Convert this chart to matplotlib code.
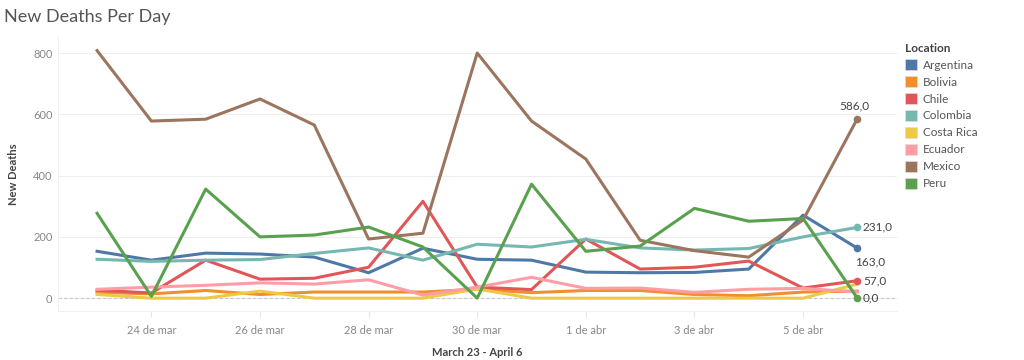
import matplotlib

matplotlib.use("Agg")
import matplotlib.pyplot as plt
from matplotlib.patches import Patch

plt.rcParams["font.family"] = ["Lato", "DejaVu Sans"]

days = list(range(15))  # March 23 .. April 6
tick_days = [1, 3, 5, 7, 9, 11, 13]
tick_labels = ["24 de mar", "26 de mar", "28 de mar", "30 de mar",
               "1 de abr", "3 de abr", "5 de abr"]

locations = ["Argentina", "Bolivia", "Chile", "Colombia",
             "Costa Rica", "Ecuador", "Mexico", "Peru"]
colors = ["#4E79A7", "#F28E2B", "#E15759", "#76B7B2",
          "#EDC948", "#FF9DA7", "#9C755F", "#59A14F"]

argentina = [153, 124, 147, 144, 134, 83, 163, 127, 124, 85, 83, 84, 95, 271, 163]
bolivia = [19, 14, 25, 12, 20, 20, 20, 29, 18, 25, 25, 12, 8, 20, 23]
chile = [26, 17, 124, 62, 65, 101, 316, 36, 28, 193, 95, 101, 121, 33, 57]
colombia = [127, 120, 124, 126, 146, 164, 124, 176, 167, 192, 164, 157, 162, 200, 231]
costa_rica = [12, 0, 0, 23, 0, 0, 0, 30, 0, 0, 0, 0, 0, 0, 46]
ecuador = [29, 36, 42, 50, 46, 60, 10, 36, 68, 32, 33, 19, 29, 32, 20]
mexico = [808, 578, 584, 650, 565, 193, 212, 800, 578, 454, 189, 155, 134, 255, 586]
peru = [277, 6, 356, 200, 206, 232, 167, 0, 372, 153, 170, 293, 251, 260, 0]

series = [argentina, bolivia, chile, colombia, costa_rica, ecuador, mexico, peru]
# end-of-line labels: offset in points and alignment
labelled = {"Mexico": (-2, 5, "center", "bottom"),
            "Colombia": (4, 0, "left", "center"),
            "Argentina": (-2, -10, "left", "center"),
            "Chile": (4, 0, "left", "center"),
            "Peru": (4, 0, "left", "center")}

fig = plt.figure(figsize=(10.24, 3.6), dpi=100)
ax = fig.add_axes([0.0566, 0.136, 0.8194, 0.761])

ax.axhline(0, color="#c8c8c8", lw=0.8, ls=(0, (3, 2)), zorder=1)
for name, vals, col in zip(locations, series, colors):
    ax.plot(days, vals, color=col, lw=2.2, zorder=3)
    if name in labelled:
        dx, dy, ha, va = labelled[name]
        ax.plot(days[-1], vals[-1], "o", color=col, ms=4.5, zorder=4)
        ax.annotate(f"{vals[-1]:.1f}".replace(".", ","), (days[-1], vals[-1]),
                    xytext=(dx, dy), textcoords="offset points",
                    ha=ha, va=va, fontsize=8.5, color="#444444")

ax.set_xlim(-0.72, 14.73)
ax.set_ylim(-42, 852)
ax.set_yticks([0, 200, 400, 600, 800])
ax.set_xticks(tick_days)
ax.set_xticklabels(tick_labels)
ax.grid(axis="y", color="#eeeeee", lw=0.8)
ax.grid(axis="x", visible=False)
ax.set_axisbelow(True)
for side in ["top", "right"]:
    ax.spines[side].set_visible(False)
for side in ["left", "bottom"]:
    ax.spines[side].set_color("#f0f0f0")
ax.tick_params(axis="y", length=0, labelsize=8, colors="#888888", pad=4)
ax.tick_params(axis="x", length=4, color="#e6e6e6", labelsize=8,
               colors="#888888", pad=6)

ax.set_ylabel("New Deaths", fontsize=8, color="#444444", fontweight="bold",
              labelpad=10)
ax.set_xlabel("March 23 - April 6", fontsize=8, color="#444444",
              fontweight="bold", labelpad=8)

fig.text(0.004, 0.975, "New Deaths Per Day", fontsize=13, color="#555555",
         ha="left", va="top")

handles = [Patch(facecolor=c, edgecolor="#dddddd", lw=0.5) for c in colors]
leg = fig.legend(handles, locations, title="Location", loc="upper left",
                 bbox_to_anchor=(0.879, 0.895), frameon=False, fontsize=8.5,
                 title_fontsize=8.5, handlelength=1.0, handleheight=1.0,
                 handletextpad=0.5, labelspacing=0.48, borderaxespad=0,
                 alignment="left")
leg.get_title().set_fontweight("bold")
leg.get_title().set_color("#444444")
for t in leg.get_texts():
    t.set_color("#555555")

fig.savefig("out.png", dpi=100, facecolor="white")
